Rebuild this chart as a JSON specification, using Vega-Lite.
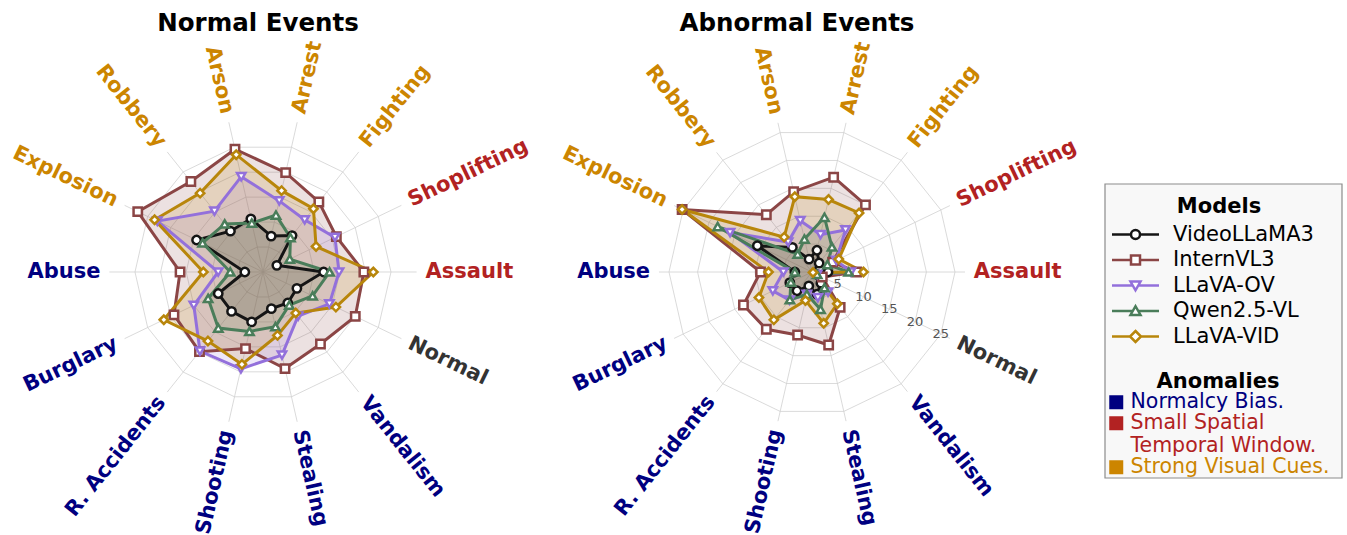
{
"$schema": "https://vega.github.io/schema/vega-lite/v6.json",
"padding": {"left": 0, "right": 0, "top": 10, "bottom": 0},
"background": "white",
"spacing": 0,
"config": {"view": {"stroke": null}, "font": "DejaVu Sans"},
"datasets": {
"cats": [
{"cat":"Assault","i":0,"grp":"Small Spatial Temporal Window."},
{"cat":"Shoplifting","i":1,"grp":"Small Spatial Temporal Window."},
{"cat":"Fighting","i":2,"grp":"Strong Visual Cues."},
{"cat":"Arrest","i":3,"grp":"Strong Visual Cues."},
{"cat":"Arson","i":4,"grp":"Strong Visual Cues."},
{"cat":"Robbery","i":5,"grp":"Strong Visual Cues."},
{"cat":"Explosion","i":6,"grp":"Strong Visual Cues."},
{"cat":"Abuse","i":7,"grp":"Normalcy Bias."},
{"cat":"Burglary","i":8,"grp":"Normalcy Bias."},
{"cat":"R. Accidents","i":9,"grp":"Normalcy Bias."},
{"cat":"Shooting","i":10,"grp":"Normalcy Bias."},
{"cat":"Stealing","i":11,"grp":"Normalcy Bias."},
{"cat":"Vandalism","i":12,"grp":"Normalcy Bias."},
{"cat":"Normal","i":13,"grp":"Normal"}],
"normal": [
{"m":"VideoLLaMA3","c":"Assault","v":23.7},{"m":"VideoLLaMA3","c":"Shoplifting","v":6.0},{"m":"VideoLLaMA3","c":"Fighting","v":18.2},{"m":"VideoLLaMA3","c":"Arrest","v":14.4},{"m":"VideoLLaMA3","c":"Arson","v":21.3},{"m":"VideoLLaMA3","c":"Robbery","v":20.4},{"m":"VideoLLaMA3","c":"Explosion","v":28.8},{"m":"VideoLLaMA3","c":"Abuse","v":7.1},{"m":"VideoLLaMA3","c":"Burglary","v":19.4},{"m":"VideoLLaMA3","c":"R. Accidents","v":19.7},{"m":"VideoLLaMA3","c":"Shooting","v":20.0},{"m":"VideoLLaMA3","c":"Stealing","v":14.7},{"m":"VideoLLaMA3","c":"Vandalism","v":15.5},{"m":"VideoLLaMA3","c":"Normal","v":14.7},
{"m":"InternVL3","c":"Assault","v":39.4},{"m":"InternVL3","c":"Shoplifting","v":31.8},{"m":"InternVL3","c":"Fighting","v":35.0},{"m":"InternVL3","c":"Arrest","v":39.8},{"m":"InternVL3","c":"Arson","v":49.2},{"m":"InternVL3","c":"Robbery","v":45.2},{"m":"InternVL3","c":"Explosion","v":54.3},{"m":"InternVL3","c":"Abuse","v":32.4},{"m":"InternVL3","c":"Burglary","v":38.6},{"m":"InternVL3","c":"R. Accidents","v":39.8},{"m":"InternVL3","c":"Shooting","v":30.7},{"m":"InternVL3","c":"Stealing","v":38.7},{"m":"InternVL3","c":"Vandalism","v":36.0},{"m":"InternVL3","c":"Normal","v":40.0},
{"m":"LLaVA-OV","c":"Assault","v":29.7},{"m":"LLaVA-OV","c":"Shoplifting","v":31.2},{"m":"LLaVA-OV","c":"Fighting","v":26.1},{"m":"LLaVA-OV","c":"Arrest","v":28.5},{"m":"LLaVA-OV","c":"Arson","v":38.2},{"m":"LLaVA-OV","c":"Robbery","v":30.4},{"m":"LLaVA-OV","c":"Explosion","v":45.8},{"m":"LLaVA-OV","c":"Abuse","v":17.5},{"m":"LLaVA-OV","c":"Burglary","v":30.0},{"m":"LLaVA-OV","c":"R. Accidents","v":39.5},{"m":"LLaVA-OV","c":"Shooting","v":38.8},{"m":"LLaVA-OV","c":"Stealing","v":33.3},{"m":"LLaVA-OV","c":"Vandalism","v":22.0},{"m":"LLaVA-OV","c":"Normal","v":28.8},
{"m":"Qwen2.5-VL","c":"Assault","v":26.0},{"m":"Qwen2.5-VL","c":"Shoplifting","v":11.6},{"m":"Qwen2.5-VL","c":"Fighting","v":17.2},{"m":"Qwen2.5-VL","c":"Arrest","v":22.8},{"m":"Qwen2.5-VL","c":"Arson","v":19.6},{"m":"Qwen2.5-VL","c":"Robbery","v":24.0},{"m":"Qwen2.5-VL","c":"Explosion","v":26.2},{"m":"Qwen2.5-VL","c":"Abuse","v":12.8},{"m":"Qwen2.5-VL","c":"Burglary","v":23.8},{"m":"Qwen2.5-VL","c":"R. Accidents","v":28.0},{"m":"Qwen2.5-VL","c":"Shooting","v":23.8},{"m":"Qwen2.5-VL","c":"Stealing","v":21.9},{"m":"Qwen2.5-VL","c":"Vandalism","v":16.5},{"m":"Qwen2.5-VL","c":"Normal","v":21.5},
{"m":"LLaVA-VID","c":"Assault","v":43.1},{"m":"LLaVA-VID","c":"Shoplifting","v":23.0},{"m":"LLaVA-VID","c":"Fighting","v":31.6},{"m":"LLaVA-VID","c":"Arrest","v":32.6},{"m":"LLaVA-VID","c":"Arson","v":47.0},{"m":"LLaVA-VID","c":"Robbery","v":39.4},{"m":"LLaVA-VID","c":"Explosion","v":47.0},{"m":"LLaVA-VID","c":"Abuse","v":23.3},{"m":"LLaVA-VID","c":"Burglary","v":43.0},{"m":"LLaVA-VID","c":"R. Accidents","v":34.5},{"m":"LLaVA-VID","c":"Shooting","v":37.0},{"m":"LLaVA-VID","c":"Stealing","v":25.4},{"m":"LLaVA-VID","c":"Vandalism","v":20.5},{"m":"LLaVA-VID","c":"Normal","v":31.6}],
"abnormal": [
{"m":"VideoLLaMA3","c":"Assault","v":2.8},{"m":"VideoLLaMA3","c":"Shoplifting","v":1.5},{"m":"VideoLLaMA3","c":"Fighting","v":2.0},{"m":"VideoLLaMA3","c":"Arrest","v":3.9},{"m":"VideoLLaMA3","c":"Arson","v":2.3},{"m":"VideoLLaMA3","c":"Robbery","v":5.5},{"m":"VideoLLaMA3","c":"Explosion","v":10.6},{"m":"VideoLLaMA3","c":"Abuse","v":3.0},{"m":"VideoLLaMA3","c":"Burglary","v":4.3},{"m":"VideoLLaMA3","c":"R. Accidents","v":4.2},{"m":"VideoLLaMA3","c":"Shooting","v":2.5},{"m":"VideoLLaMA3","c":"Stealing","v":4.0},{"m":"VideoLLaMA3","c":"Vandalism","v":2.5},{"m":"VideoLLaMA3","c":"Normal","v":1.0},
{"m":"InternVL3","c":"Assault","v":7.8},{"m":"InternVL3","c":"Shoplifting","v":4.0},{"m":"InternVL3","c":"Fighting","v":15.0},{"m":"InternVL3","c":"Arrest","v":17.0},{"m":"InternVL3","c":"Arson","v":14.4},{"m":"InternVL3","c":"Robbery","v":12.8},{"m":"InternVL3","c":"Explosion","v":25.2},{"m":"InternVL3","c":"Abuse","v":9.0},{"m":"InternVL3","c":"Burglary","v":13.3},{"m":"InternVL3","c":"R. Accidents","v":12.8},{"m":"InternVL3","c":"Shooting","v":11.3},{"m":"InternVL3","c":"Stealing","v":13.1},{"m":"InternVL3","c":"Vandalism","v":7.9},{"m":"InternVL3","c":"Normal","v":2.0},
{"m":"LLaVA-OV","c":"Assault","v":6.8},{"m":"LLaVA-OV","c":"Shoplifting","v":4.7},{"m":"LLaVA-OV","c":"Fighting","v":9.4},{"m":"LLaVA-OV","c":"Arrest","v":6.7},{"m":"LLaVA-OV","c":"Arson","v":9.2},{"m":"LLaVA-OV","c":"Robbery","v":6.7},{"m":"LLaVA-OV","c":"Explosion","v":15.9},{"m":"LLaVA-OV","c":"Abuse","v":5.0},{"m":"LLaVA-OV","c":"Burglary","v":7.6},{"m":"LLaVA-OV","c":"R. Accidents","v":6.3},{"m":"LLaVA-OV","c":"Shooting","v":4.0},{"m":"LLaVA-OV","c":"Stealing","v":4.6},{"m":"LLaVA-OV","c":"Vandalism","v":4.5},{"m":"LLaVA-OV","c":"Normal","v":1.0},
{"m":"Qwen2.5-VL","c":"Assault","v":6.4},{"m":"Qwen2.5-VL","c":"Shoplifting","v":3.0},{"m":"Qwen2.5-VL","c":"Fighting","v":5.6},{"m":"Qwen2.5-VL","c":"Arrest","v":9.8},{"m":"Qwen2.5-VL","c":"Arson","v":5.9},{"m":"Qwen2.5-VL","c":"Robbery","v":4.0},{"m":"Qwen2.5-VL","c":"Explosion","v":18.3},{"m":"Qwen2.5-VL","c":"Abuse","v":3.0},{"m":"Qwen2.5-VL","c":"Burglary","v":4.1},{"m":"Qwen2.5-VL","c":"R. Accidents","v":6.2},{"m":"Qwen2.5-VL","c":"Shooting","v":4.0},{"m":"Qwen2.5-VL","c":"Stealing","v":6.7},{"m":"Qwen2.5-VL","c":"Vandalism","v":3.5},{"m":"Qwen2.5-VL","c":"Normal","v":1.0},
{"m":"LLaVA-VID","c":"Assault","v":9.0},{"m":"LLaVA-VID","c":"Shoplifting","v":5.2},{"m":"LLaVA-VID","c":"Fighting","v":13.2},{"m":"LLaVA-VID","c":"Arrest","v":13.0},{"m":"LLaVA-VID","c":"Arson","v":13.5},{"m":"LLaVA-VID","c":"Robbery","v":7.8},{"m":"LLaVA-VID","c":"Explosion","v":25.2},{"m":"LLaVA-VID","c":"Abuse","v":7.6},{"m":"LLaVA-VID","c":"Burglary","v":10.3},{"m":"LLaVA-VID","c":"R. Accidents","v":10.7},{"m":"LLaVA-VID","c":"Shooting","v":5.1},{"m":"LLaVA-VID","c":"Stealing","v":9.2},{"m":"LLaVA-VID","c":"Vandalism","v":7.1},{"m":"LLaVA-VID","c":"Normal","v":0.2}]
},
"resolve": {"scale": {"color": "independent", "fill": "independent", "stroke": "independent", "shape": "independent", "size": "independent"}},
"hconcat": [
{
"width": 540, "height": 501,
"title": {"text": "Normal Events", "fontSize": 24.5, "fontWeight": "bold", "font": "DejaVu Sans", "color": "#000", "offset": 0, "dx": -12, "anchor": "middle"},
"layer": [
{"data": {"name": "cats"}, "transform": [{"calculate": "0", "as": "ox"}, {"calculate": "60*cos(datum.i*PI/7)", "as": "gx"}, {"calculate": "60*sin(datum.i*PI/7)", "as": "gy"}],
 "mark": {"type": "rule", "color": "#d0d0d0", "strokeWidth": 0.8},
 "encoding": {"x": {"field": "ox", "type": "quantitative", "scale": {"domain": [-102.73, 108.2], "nice": false, "zero": false}, "axis": null}, "y": {"field": "ox", "type": "quantitative", "scale": {"domain": [-103.52, 92.19], "nice": false, "zero": false}, "axis": null}, "x2": {"field": "gx"}, "y2": {"field": "gy"}}},
{"data": {"values": [{"r":10,"k":[0,1,2,3,4,5,6,7,8,9,10,11,12,13]},{"r":20,"k":[0,1,2,3,4,5,6,7,8,9,10,11,12,13]},{"r":30,"k":[0,1,2,3,4,5,6,7,8,9,10,11,12,13]},{"r":40,"k":[0,1,2,3,4,5,6,7,8,9,10,11,12,13]},{"r":50,"k":[0,1,2,3,4,5,6,7,8,9,10,11,12,13]}]},
 "transform": [{"flatten": ["k"]}, {"calculate": "datum.r*cos(datum.k*PI/7)", "as": "x"}, {"calculate": "datum.r*sin(datum.k*PI/7)", "as": "y"}],
 "mark": {"type": "line", "interpolate": "linear-closed", "color": "#d0d0d0", "strokeWidth": 0.8},
 "encoding": {"x": {"field": "x", "type": "quantitative", "scale": {"domain": [-102.73, 108.2], "nice": false, "zero": false}, "axis": null}, "y": {"field": "y", "type": "quantitative", "scale": {"domain": [-103.52, 92.19], "nice": false, "zero": false}, "axis": null}, "detail": {"field": "r", "type": "nominal"}, "order": {"field": "k", "type": "quantitative"}}},
{"data": {"name": "normal"}, "transform": [{"lookup": "c", "from": {"data": {"name": "cats"}, "key": "cat", "fields": ["i"]}}, {"calculate": "datum.v*cos(datum.i*PI/7)", "as": "x"}, {"calculate": "datum.v*sin(datum.i*PI/7)", "as": "y"}],
 "mark": {"type": "line", "interpolate": "linear-closed", "fillOpacity": 0.16, "strokeOpacity": 0},
 "encoding": {"x": {"field": "x", "type": "quantitative", "scale": {"domain": [-102.73, 108.2], "nice": false, "zero": false}, "axis": null}, "y": {"field": "y", "type": "quantitative", "scale": {"domain": [-103.52, 92.19], "nice": false, "zero": false}, "axis": null}, "fill": {"field": "m", "type": "nominal", "scale": {"domain": ["VideoLLaMA3","InternVL3","LLaVA-OV","Qwen2.5-VL","LLaVA-VID"], "range": ["#151515","#8B4545","#9370DB","#4A7D5A","#B8860B"]}, "legend": null}, "order": {"field": "i", "type": "quantitative"}}},
{"data": {"name": "normal"}, "transform": [{"lookup": "c", "from": {"data": {"name": "cats"}, "key": "cat", "fields": ["i"]}}, {"calculate": "datum.v*cos(datum.i*PI/7)", "as": "x"}, {"calculate": "datum.v*sin(datum.i*PI/7)", "as": "y"}],
 "mark": {"type": "line", "interpolate": "linear-closed", "strokeWidth": 3},
 "encoding": {"x": {"field": "x", "type": "quantitative", "scale": {"domain": [-102.73, 108.2], "nice": false, "zero": false}, "axis": null}, "y": {"field": "y", "type": "quantitative", "scale": {"domain": [-103.52, 92.19], "nice": false, "zero": false}, "axis": null}, "stroke": {"field": "m", "type": "nominal", "scale": {"domain": ["VideoLLaMA3","InternVL3","LLaVA-OV","Qwen2.5-VL","LLaVA-VID"], "range": ["#151515","#8B4545","#9370DB","#4A7D5A","#B8860B"]}, "legend": null}, "order": {"field": "i", "type": "quantitative"}}},
{"data": {"name": "normal"}, "transform": [{"lookup": "c", "from": {"data": {"name": "cats"}, "key": "cat", "fields": ["i"]}}, {"calculate": "datum.v*cos(datum.i*PI/7)", "as": "x"}, {"calculate": "datum.v*sin(datum.i*PI/7)", "as": "y"}],
 "mark": {"type": "point", "filled": true, "fill": "#ffffff", "strokeWidth": 2.5, "opacity": 1},
 "encoding": {"x": {"field": "x", "type": "quantitative", "scale": {"domain": [-102.73, 108.2], "nice": false, "zero": false}, "axis": null}, "y": {"field": "y", "type": "quantitative", "scale": {"domain": [-103.52, 92.19], "nice": false, "zero": false}, "axis": null}, "stroke": {"field": "m", "type": "nominal", "scale": {"domain": ["VideoLLaMA3","InternVL3","LLaVA-OV","Qwen2.5-VL","LLaVA-VID"], "range": ["#151515","#8B4545","#9370DB","#4A7D5A","#B8860B"]}, "legend": null}, "shape": {"field": "m", "type": "nominal", "scale": {"domain": ["VideoLLaMA3","InternVL3","LLaVA-OV","Qwen2.5-VL","LLaVA-VID"], "range": ["circle","square","triangle-down","triangle-up","diamond"]}, "legend": null}, "size": {"field": "m", "type": "nominal", "scale": {"domain": ["VideoLLaMA3","InternVL3","LLaVA-OV","Qwen2.5-VL","LLaVA-VID"], "range": [70,70,105,105,120]}, "legend": null}}},
{"data": {"name": "cats"}, "transform": [{"calculate": "63.5*cos(datum.i*PI/7)", "as": "lx"}, {"calculate": "63.5*sin(datum.i*PI/7)", "as": "ly"}, {"calculate": "-datum.i*180/7", "as": "ang"}, {"filter": "datum.i<=3 || datum.i>=11"}],
 "mark": {"type": "text", "align": "left", "baseline": "middle", "fontSize": 21, "fontWeight": "bold", "font": "DejaVu Sans"},
 "encoding": {"x": {"field": "lx", "type": "quantitative", "scale": {"domain": [-102.73, 108.2], "nice": false, "zero": false}, "axis": null}, "y": {"field": "ly", "type": "quantitative", "scale": {"domain": [-103.52, 92.19], "nice": false, "zero": false}, "axis": null}, "angle": {"field": "ang", "type": "quantitative", "scale": null}, "text": {"field": "cat", "type": "nominal"}, "color": {"field": "grp", "type": "nominal", "scale": {"domain": ["Normalcy Bias.","Small Spatial Temporal Window.","Strong Visual Cues.","Normal"], "range": ["#000080","#B22222","#CC8500","#333333"]}, "legend": null}}},
{"data": {"name": "cats"}, "transform": [{"calculate": "63.5*cos(datum.i*PI/7)", "as": "lx"}, {"calculate": "63.5*sin(datum.i*PI/7)", "as": "ly"}, {"calculate": "180-datum.i*180/7", "as": "ang"}, {"filter": "datum.i>=4 && datum.i<=10"}],
 "mark": {"type": "text", "align": "right", "baseline": "middle", "fontSize": 21, "fontWeight": "bold", "font": "DejaVu Sans"},
 "encoding": {"x": {"field": "lx", "type": "quantitative", "scale": {"domain": [-102.73, 108.2], "nice": false, "zero": false}, "axis": null}, "y": {"field": "ly", "type": "quantitative", "scale": {"domain": [-103.52, 92.19], "nice": false, "zero": false}, "axis": null}, "angle": {"field": "ang", "type": "quantitative", "scale": null}, "text": {"field": "cat", "type": "nominal"}, "color": {"field": "grp", "type": "nominal", "scale": {"domain": ["Normalcy Bias.","Small Spatial Temporal Window.","Strong Visual Cues.","Normal"], "range": ["#000080","#B22222","#CC8500","#333333"]}, "legend": null}}}
]
},
{
"width": 564, "height": 501,
"title": {"text": "Abnormal Events", "fontSize": 24.5, "fontWeight": "bold", "font": "DejaVu Sans", "color": "#000", "offset": 0, "dx": -25, "anchor": "middle"},
"layer": [
{"data": {"name": "cats"}, "transform": [{"calculate": "0", "as": "ox"}, {"calculate": "26.75*cos(datum.i*PI/7)", "as": "gx"}, {"calculate": "26.75*sin(datum.i*PI/7)", "as": "gy"}],
 "mark": {"type": "rule", "color": "#d0d0d0", "strokeWidth": 0.8},
 "encoding": {"x": {"field": "ox", "type": "quantitative", "scale": {"domain": [-47.55, 51.05], "nice": false, "zero": false}, "axis": null}, "y": {"field": "ox", "type": "quantitative", "scale": {"domain": [-46.33, 41.26], "nice": false, "zero": false}, "axis": null}, "x2": {"field": "gx"}, "y2": {"field": "gy"}}},
{"data": {"values": [{"r":5,"k":[0,1,2,3,4,5,6,7,8,9,10,11,12,13]},{"r":10,"k":[0,1,2,3,4,5,6,7,8,9,10,11,12,13]},{"r":15,"k":[0,1,2,3,4,5,6,7,8,9,10,11,12,13]},{"r":20,"k":[0,1,2,3,4,5,6,7,8,9,10,11,12,13]},{"r":25,"k":[0,1,2,3,4,5,6,7,8,9,10,11,12,13]}]},
 "transform": [{"flatten": ["k"]}, {"calculate": "datum.r*cos(datum.k*PI/7)", "as": "x"}, {"calculate": "datum.r*sin(datum.k*PI/7)", "as": "y"}],
 "mark": {"type": "line", "interpolate": "linear-closed", "color": "#d0d0d0", "strokeWidth": 0.8},
 "encoding": {"x": {"field": "x", "type": "quantitative", "scale": {"domain": [-47.55, 51.05], "nice": false, "zero": false}, "axis": null}, "y": {"field": "y", "type": "quantitative", "scale": {"domain": [-46.33, 41.26], "nice": false, "zero": false}, "axis": null}, "detail": {"field": "r", "type": "nominal"}, "order": {"field": "k", "type": "quantitative"}}},
{"data": {"name": "abnormal"}, "transform": [{"lookup": "c", "from": {"data": {"name": "cats"}, "key": "cat", "fields": ["i"]}}, {"calculate": "datum.v*cos(datum.i*PI/7)", "as": "x"}, {"calculate": "datum.v*sin(datum.i*PI/7)", "as": "y"}],
 "mark": {"type": "line", "interpolate": "linear-closed", "fillOpacity": 0.16, "strokeOpacity": 0},
 "encoding": {"x": {"field": "x", "type": "quantitative", "scale": {"domain": [-47.55, 51.05], "nice": false, "zero": false}, "axis": null}, "y": {"field": "y", "type": "quantitative", "scale": {"domain": [-46.33, 41.26], "nice": false, "zero": false}, "axis": null}, "fill": {"field": "m", "type": "nominal", "scale": {"domain": ["VideoLLaMA3","InternVL3","LLaVA-OV","Qwen2.5-VL","LLaVA-VID"], "range": ["#151515","#8B4545","#9370DB","#4A7D5A","#B8860B"]}, "legend": null}, "order": {"field": "i", "type": "quantitative"}}},
{"data": {"name": "abnormal"}, "transform": [{"lookup": "c", "from": {"data": {"name": "cats"}, "key": "cat", "fields": ["i"]}}, {"calculate": "datum.v*cos(datum.i*PI/7)", "as": "x"}, {"calculate": "datum.v*sin(datum.i*PI/7)", "as": "y"}],
 "mark": {"type": "line", "interpolate": "linear-closed", "strokeWidth": 3},
 "encoding": {"x": {"field": "x", "type": "quantitative", "scale": {"domain": [-47.55, 51.05], "nice": false, "zero": false}, "axis": null}, "y": {"field": "y", "type": "quantitative", "scale": {"domain": [-46.33, 41.26], "nice": false, "zero": false}, "axis": null}, "stroke": {"field": "m", "type": "nominal", "scale": {"domain": ["VideoLLaMA3","InternVL3","LLaVA-OV","Qwen2.5-VL","LLaVA-VID"], "range": ["#151515","#8B4545","#9370DB","#4A7D5A","#B8860B"]}, "legend": null}, "order": {"field": "i", "type": "quantitative"}}},
{"data": {"name": "abnormal"}, "transform": [{"lookup": "c", "from": {"data": {"name": "cats"}, "key": "cat", "fields": ["i"]}}, {"calculate": "datum.v*cos(datum.i*PI/7)", "as": "x"}, {"calculate": "datum.v*sin(datum.i*PI/7)", "as": "y"}],
 "mark": {"type": "point", "filled": true, "fill": "#ffffff", "strokeWidth": 2.5, "opacity": 1},
 "encoding": {"x": {"field": "x", "type": "quantitative", "scale": {"domain": [-47.55, 51.05], "nice": false, "zero": false}, "axis": null}, "y": {"field": "y", "type": "quantitative", "scale": {"domain": [-46.33, 41.26], "nice": false, "zero": false}, "axis": null}, "stroke": {"field": "m", "type": "nominal", "scale": {"domain": ["VideoLLaMA3","InternVL3","LLaVA-OV","Qwen2.5-VL","LLaVA-VID"], "range": ["#151515","#8B4545","#9370DB","#4A7D5A","#B8860B"]}, "legend": null}, "shape": {"field": "m", "type": "nominal", "scale": {"domain": ["VideoLLaMA3","InternVL3","LLaVA-OV","Qwen2.5-VL","LLaVA-VID"], "range": ["circle","square","triangle-down","triangle-up","diamond"]}, "legend": null}, "size": {"field": "m", "type": "nominal", "scale": {"domain": ["VideoLLaMA3","InternVL3","LLaVA-OV","Qwen2.5-VL","LLaVA-VID"], "range": [70,70,105,105,120]}, "legend": null}}},
{"data": {"values": [{"t":5},{"t":10},{"t":15},{"t":20},{"t":25}]}, "transform": [{"calculate": "datum.t*cos(13*PI/7)", "as": "x"}, {"calculate": "datum.t*sin(13*PI/7)", "as": "y"}],
 "mark": {"type": "text", "fontSize": 13, "color": "#555555", "align": "center", "baseline": "middle", "font": "DejaVu Sans"},
 "encoding": {"x": {"field": "x", "type": "quantitative", "scale": {"domain": [-47.55, 51.05], "nice": false, "zero": false}, "axis": null}, "y": {"field": "y", "type": "quantitative", "scale": {"domain": [-46.33, 41.26], "nice": false, "zero": false}, "axis": null}, "text": {"field": "t", "type": "quantitative"}}},
{"data": {"name": "cats"}, "transform": [{"calculate": "28.3*cos(datum.i*PI/7)", "as": "lx"}, {"calculate": "28.3*sin(datum.i*PI/7)", "as": "ly"}, {"calculate": "-datum.i*180/7", "as": "ang"}, {"filter": "datum.i<=3 || datum.i>=11"}],
 "mark": {"type": "text", "align": "left", "baseline": "middle", "fontSize": 21, "fontWeight": "bold", "font": "DejaVu Sans"},
 "encoding": {"x": {"field": "lx", "type": "quantitative", "scale": {"domain": [-47.55, 51.05], "nice": false, "zero": false}, "axis": null}, "y": {"field": "ly", "type": "quantitative", "scale": {"domain": [-46.33, 41.26], "nice": false, "zero": false}, "axis": null}, "angle": {"field": "ang", "type": "quantitative", "scale": null}, "text": {"field": "cat", "type": "nominal"}, "color": {"field": "grp", "type": "nominal", "scale": {"domain": ["Normalcy Bias.","Small Spatial Temporal Window.","Strong Visual Cues.","Normal"], "range": ["#000080","#B22222","#CC8500","#333333"]}, "legend": null}}},
{"data": {"name": "cats"}, "transform": [{"calculate": "28.3*cos(datum.i*PI/7)", "as": "lx"}, {"calculate": "28.3*sin(datum.i*PI/7)", "as": "ly"}, {"calculate": "180-datum.i*180/7", "as": "ang"}, {"filter": "datum.i>=4 && datum.i<=10"}],
 "mark": {"type": "text", "align": "right", "baseline": "middle", "fontSize": 21, "fontWeight": "bold", "font": "DejaVu Sans"},
 "encoding": {"x": {"field": "lx", "type": "quantitative", "scale": {"domain": [-47.55, 51.05], "nice": false, "zero": false}, "axis": null}, "y": {"field": "ly", "type": "quantitative", "scale": {"domain": [-46.33, 41.26], "nice": false, "zero": false}, "axis": null}, "angle": {"field": "ang", "type": "quantitative", "scale": null}, "text": {"field": "cat", "type": "nominal"}, "color": {"field": "grp", "type": "nominal", "scale": {"domain": ["Normalcy Bias.","Small Spatial Temporal Window.","Strong Visual Cues.","Normal"], "range": ["#000080","#B22222","#CC8500","#333333"]}, "legend": null}}}
]
},
{
"spacing": 0,
"vconcat": [
{"width": 237, "height": 147, "data": {"values": [{"a": 1}]}, "mark": {"type": "rect", "opacity": 0}},
{"width": 237, "height": 294,
"layer": [
 {"data": {"values": [{"a": 1}]}, "mark": {"type": "rect", "fill": "#f8f8f8", "stroke": "#8c8c8c", "strokeWidth": 1.2}},
 {"data": {"values": [{"m":"VideoLLaMA3"},{"m":"InternVL3"},{"m":"LLaVA-OV"},{"m":"Qwen2.5-VL"},{"m":"LLaVA-VID"}]}, "transform": [{"filter": "false"}],
  "mark": {"type": "point", "filled": true, "fill": "#ffffff", "strokeWidth": 2.5},
  "encoding": {
   "stroke": {"field": "m", "type": "nominal", "scale": {"domain": ["VideoLLaMA3","InternVL3","LLaVA-OV","Qwen2.5-VL","LLaVA-VID"], "range": ["#151515","#8B4545","#9370DB","#4A7D5A","#B8860B"]},
     "legend": {"title": "Models", "orient": "none", "legendX": 20, "legendY": 160, "padding": 0, "titleFontSize": 21, "titleFont": "DejaVu Sans", "titleFontWeight": "bold", "titleColor": "#000000", "titleAnchor": "middle", "titlePadding": 7, "labelFontSize": 21, "labelFont": "DejaVu Sans", "labelColor": "#000000", "labelOffset": 27, "labelLimit": 300, "symbolSize": 100, "symbolStrokeWidth": 2.5, "symbolFillColor": "#ffffff", "symbolOpacity": 1, "rowPadding": 3.5}},
   "shape": {"field": "m", "type": "nominal", "scale": {"domain": ["VideoLLaMA3","InternVL3","LLaVA-OV","Qwen2.5-VL","LLaVA-VID"], "range": [
     "M-4.7,0H-0.9M0.9,0H4.7M0.9,0A0.9,0.9,0,1,1,-0.9,0A0.9,0.9,0,1,1,0.9,0Z",
     "M-4.7,0H-0.9M0.9,0H4.7M-0.9,-0.9H0.9V0.9H-0.9Z",
     "M-4.7,0H-0.55M0.55,0H4.7M-1,-0.8H1L0,0.95Z",
     "M-4.7,0H-0.55M0.55,0H4.7M-1,0.8H1L0,-0.95Z",
     "M-4.7,0H-1.1M1.1,0H4.7M0,-1.1L1.1,0L0,1.1L-1.1,0Z"]},
     "legend": {"title": "Models", "orient": "none", "legendX": 20, "legendY": 160, "padding": 0, "titleFontSize": 21, "titleFont": "DejaVu Sans", "titleFontWeight": "bold", "titleColor": "#000000", "titleAnchor": "middle", "titlePadding": 7, "labelFontSize": 21, "labelFont": "DejaVu Sans", "labelColor": "#000000", "labelOffset": 27, "labelLimit": 300, "symbolSize": 100, "symbolStrokeWidth": 2.5, "symbolFillColor": "#ffffff", "symbolOpacity": 1, "rowPadding": 3.5}}
  }},
 {"data": {"values": [{"g":"Normalcy Bias."},{"g":"Small Spatial Temporal Window."},{"g":"Strong Visual Cues."}]}, "transform": [{"filter": "false"}],
  "mark": {"type": "square"},
  "encoding": {
   "color": {"field": "g", "type": "nominal", "scale": {"domain": ["Normalcy Bias.","Small Spatial Temporal Window.","Strong Visual Cues."], "range": ["#000080","#B22222","#CC8500"]},
     "legend": {"title": "Anomalies", "orient": "none", "legendX": 1, "legendY": 335, "padding": 0, "titleFontSize": 21, "titleFont": "DejaVu Sans", "titleFontWeight": "bold", "titleColor": "#000000", "titleAnchor": "middle", "titlePadding": 0, "labelFontSize": 20.5, "labelFont": "DejaVu Sans", "labelOffset": 4, "labelLimit": 300, "symbolType": "square", "symbolSize": 196, "symbolStrokeWidth": 0, "symbolOpacity": 1, "rowPadding": -3.5,
       "labelExpr": "datum.label == 'Small Spatial Temporal Window.' ? ['Small Spatial', 'Temporal Window.'] : datum.label",
       "labelColor": {"expr": "datum.value == 'Normalcy Bias.' ? '#000080' : datum.value == 'Strong Visual Cues.' ? '#CC8500' : '#B22222'"}}}
  }}
]}
]
}
]
}
